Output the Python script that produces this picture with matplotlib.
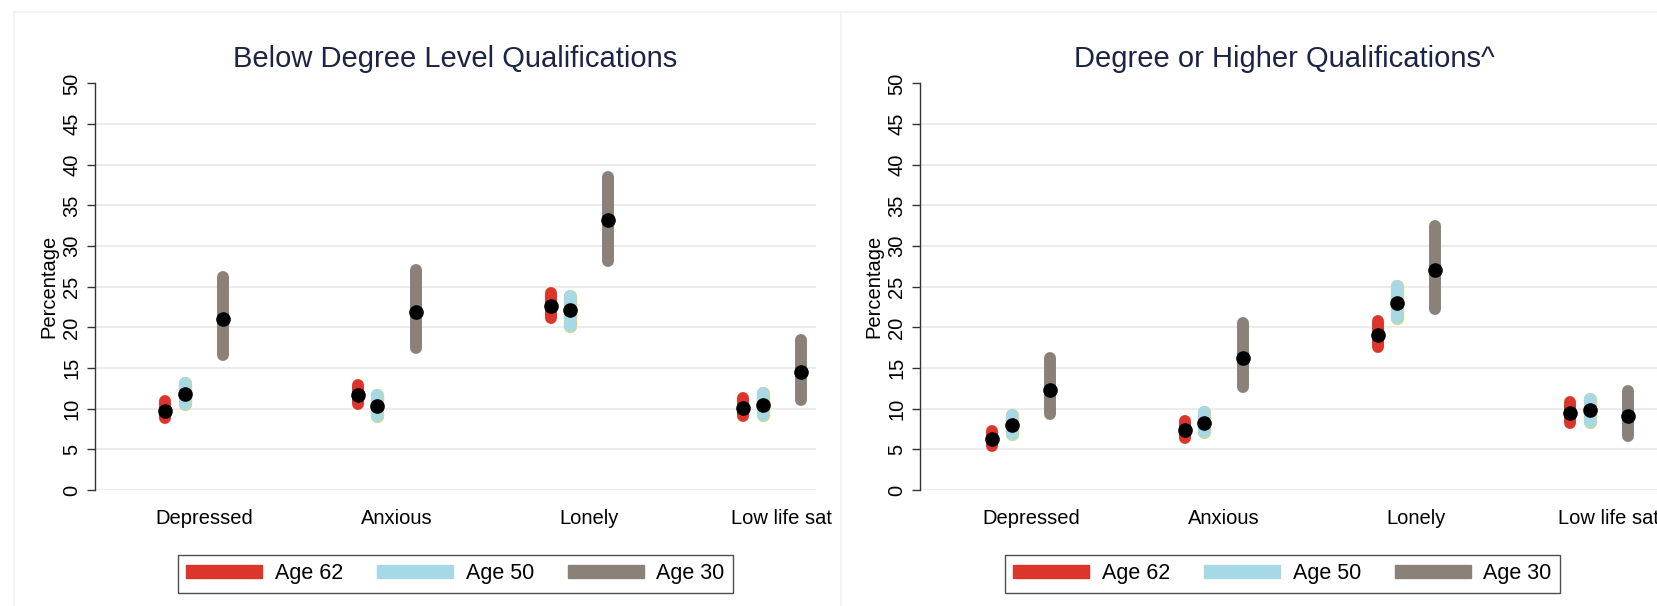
import numpy as np
import matplotlib
matplotlib.use("Agg")
import matplotlib.pyplot as plt
from matplotlib.patches import Patch
from matplotlib.lines import Line2D

plt.rcParams['font.family'] = ['Liberation Sans', 'DejaVu Sans']

# outcomes and age groups
categories = ['Depressed', 'Anxious', 'Lonely', 'Low life sat']
ages = ['Age 62', 'Age 50', 'Age 30']
panel_titles = ['Below Degree Level Qualifications', 'Degree or Higher Qualifications^']

# Below degree level: estimate, lower and upper bound per age group
below_est = {'Age 62': [9.7, 11.7, 22.6, 10.1],
             'Age 50': [11.8, 10.3, 22.1, 10.5],
             'Age 30': [21.0, 21.9, 33.2, 14.5]}
below_lo = {'Age 62': [8.8, 10.6, 21.1, 9.1],
            'Age 50': [10.6, 9.1, 20.2, 9.2],
            'Age 30': [16.6, 17.5, 28.2, 11.1]}
below_hi = {'Age 62': [10.9, 12.9, 24.2, 11.3],
            'Age 50': [13.2, 11.7, 23.9, 11.9],
            'Age 30': [26.2, 27.1, 38.5, 18.4]}

# Degree or higher
degree_est = {'Age 62': [6.3, 7.4, 19.1, 9.5],
              'Age 50': [8.0, 8.3, 23.0, 9.8],
              'Age 30': [12.3, 16.2, 27.1, 9.1]}
degree_lo = {'Age 62': [5.4, 6.4, 17.6, 8.3],
             'Age 50': [6.9, 7.1, 21.1, 8.4],
             'Age 30': [9.3, 12.7, 22.3, 6.6]}
degree_hi = {'Age 62': [7.3, 8.5, 20.8, 10.8],
             'Age 50': [9.2, 9.6, 25.1, 11.2],
             'Age 30': [16.2, 20.6, 32.5, 12.2]}

colors = {'Age 62': '#dc352c', 'Age 50': '#a6d8e6', 'Age 30': '#8a8178'}
offsets = {'Age 62': -0.2, 'Age 50': -0.1, 'Age 30': 0.1}
title_color = '#1c2444'

W, H = 1657, 606
fig = plt.figure(figsize=(W / 100, H / 100), dpi=100)

# faint outlines of the two combined graphs (left, top and divider)
for xs, ys in [((14, 14), (12, 606)), ((14, W), (12, 12)), ((841, 841), (12, 606))]:
    fig.add_artist(Line2D([v / W for v in xs], [1 - v / H for v in ys],
                          transform=fig.transFigure, color='#f2f2f2', linewidth=1.2))

ax_top, ax_h = 83.5, 406.5
panels = [
    dict(left=95, right=816, xlim=(-0.565, 3.177), title_x=0.5, leg_x=0.5,
         est=below_est, lo=below_lo, hi=below_hi),
    dict(left=920, right=1690, xlim=(-0.575, 3.421), title_x=0.4727, leg_x=0.4708,
         est=degree_est, lo=degree_lo, hi=degree_hi),
]

x = np.arange(len(categories))
for p, title in zip(panels, panel_titles):
    ax = fig.add_axes([p['left'] / W, (H - ax_top - ax_h) / H,
                       (p['right'] - p['left']) / W, ax_h / H])
    for age in ages:
        xs = x + offsets[age]
        if age == 'Age 50':
            ax.vlines(xs, p['lo'][age], p['hi'][age], colors='#cdd98a',
                      linewidth=9.6, capstyle='round', zorder=2)
        ax.vlines(xs, p['lo'][age], p['hi'][age], colors=colors[age],
                  linewidth=8.6, capstyle='round', zorder=3)
        ax.plot(xs, p['est'][age], 'o', color='black', markersize=9.5, zorder=4)

    ax.set_xlim(*p['xlim'])
    ax.set_ylim(0, 50)
    ax.set_yticks(np.arange(0, 51, 5))
    ax.set_xticks(x)
    ax.set_xticklabels(categories, fontsize=14.5)
    ax.tick_params(axis='x', length=0, pad=14)
    ax.tick_params(axis='y', length=6, width=1, color='#333333', pad=4, labelsize=14.5)
    plt.setp(ax.get_yticklabels(), rotation=90, va='center')
    ax.set_ylabel('Percentage', fontsize=14.5, labelpad=3)

    ax.grid(axis='y', color='#ececec', linewidth=1.5)
    ax.set_axisbelow(True)
    for side in ['top', 'right', 'bottom']:
        ax.spines[side].set_visible(False)
    ax.spines['left'].set_color('#333333')
    ax.spines['left'].set_linewidth(1)

    ax.set_title(title, fontsize=21, color=title_color, x=p['title_x'], pad=12)

    handles = [Patch(facecolor=colors[a], edgecolor=colors[a], label=a) for a in ages]
    leg = ax.legend(handles=handles, loc='center', bbox_to_anchor=(p['leg_x'], -0.2066),
                    ncol=3, fontsize=15.5, frameon=True, fancybox=False,
                    handlelength=3.5, handleheight=0.55, handletextpad=0.6,
                    columnspacing=1.6, borderpad=0.38)
    leg.get_frame().set_edgecolor('#222222')
    leg.get_frame().set_linewidth(1)

fig.savefig('out.png', dpi=100, facecolor='white')
